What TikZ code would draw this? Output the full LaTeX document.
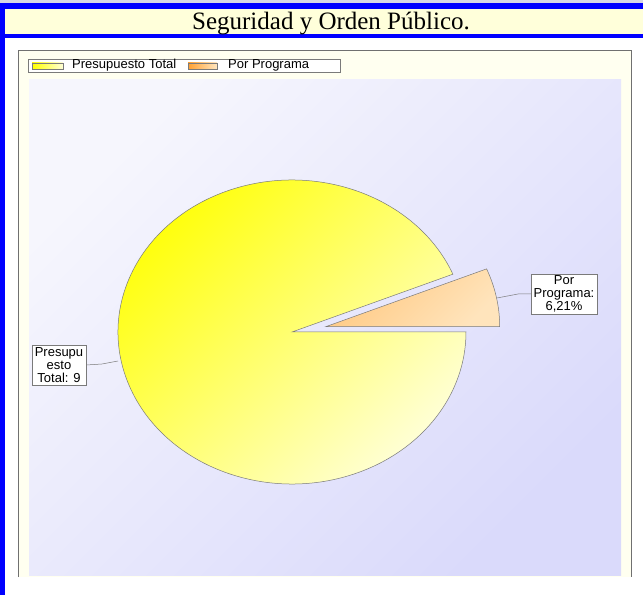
\documentclass[tikz,border=0pt]{standalone}
\usepackage{fontspec}
\setmainfont{Liberation Sans}
\newfontfamily\titlefont{Liberation Serif}
\definecolor{frameblue}{HTML}{0000FF}
\definecolor{topgray}{HTML}{D8D8E4}
\definecolor{titlebg}{HTML}{FFFFDA}
\definecolor{panelbg}{HTML}{FFFFF0}
\definecolor{panelline}{HTML}{707070}
\definecolor{plotA}{HTML}{F6F6FD}
\definecolor{plotB}{HTML}{DADAFB}
\definecolor{pieA}{HTML}{FFFF00}
\definecolor{pieM}{HTML}{FFFF78}
\definecolor{pieB}{HTML}{FFFFD8}
\definecolor{orA}{HTML}{FFC880}
\definecolor{orB}{HTML}{FFE4BC}
\definecolor{swOrA}{HTML}{FFA030}
\definecolor{swOrB}{HTML}{FFE6C0}
\definecolor{edge}{HTML}{7A7A7A}
\begin{document}
\begin{tikzpicture}[x=1pt,y=1pt,
  lbl/.style={draw=edge, fill=white, line width=0.5pt, align=center,
    font=\fontsize{13}{12.8}\selectfont, inner sep=0pt, minimum height=40pt},
  slice/.style={draw=edge, line width=0.5pt},
  lead/.style={draw=edge, line width=0.5pt},
  swatch/.style={draw=edge, line width=0.5pt},
  legtext/.style={anchor=west, inner sep=0pt, font=\fontsize{13}{13}\selectfont}]
\useasboundingbox (0,0) rectangle (643,595);
\fill[white] (0,0) rectangle (643,595);
\fill[topgray] (0,592) rectangle (643,595);
% blue frame and title band
\fill[frameblue] (0,586) rectangle (643,592);
\fill[frameblue] (0,557) rectangle (643,561);
\fill[frameblue] (0,0) rectangle (5,592);
\fill[titlebg] (5,561) rectangle (643,586);
\node[font=\titlefont\fontsize{25}{25}\selectfont, anchor=base, inner sep=0pt] (title) at (331,565) {Seguridad y Orden Público.};
% chart panel
\fill[panelbg] (18,18) rectangle (631,545);
\draw[panelline, line width=0.8pt] (18,18) -- (18,545) -- (631,545) -- (631,18);
% plot area
\shade[top color=plotA, bottom color=plotB, shading angle=45] (29,20) rectangle (621,515);
% legend
\draw[edge, line width=0.5pt, fill=white] (28,523) rectangle (340,536);
\shadedraw[swatch, left color=pieA, right color=pieB] (32,526) rectangle (63,532);
\node[legtext] (lt1) at (72,530) {Presupuesto Total};
\shadedraw[swatch, left color=swOrA, right color=swOrB] (188,526) rectangle (217,532);
\node[legtext] (lt2) at (228,530) {Por Programa};
% pie
\shadedraw[slice, top color=pieA, middle color=pieM, bottom color=pieB, shading angle=45]
  (292,263) -- +(22.36:174pt and 152pt)
  arc[start angle=22.36, end angle=360, x radius=174pt, y radius=152pt] -- cycle;
\shadedraw[slice, top color=orA, bottom color=orB, shading angle=45]
  (325.7,268.3) -- +(0:174pt and 152pt)
  arc[start angle=0, end angle=22.36, x radius=174pt, y radius=152pt] -- cycle;
% labels
\node[lbl, minimum width=54pt] (lp) at (59,230) {Presupu\\esto\\Total: 9};
\node[lbl, minimum width=66pt] (rp) at (564,301) {Por\\Programa:\\6,21\%};
\coordinate (pl) at (118,234);
\coordinate (pr) at (497,297);
\draw[lead] (lp.east) -- (102,231) -- (pl);
\draw[lead] (rp.west) -- (518,301) -- (pr);
\end{tikzpicture}
\end{document}
